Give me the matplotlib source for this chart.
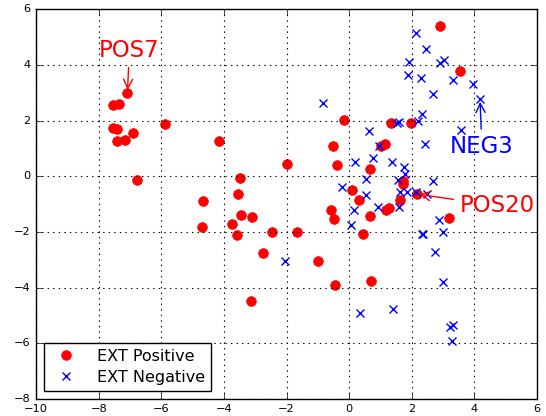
import matplotlib
matplotlib.use("Agg")
import numpy as np
from matplotlib import pyplot as plt

# EXT positive (red circles)
pos_x = [-7.08, -7.54, -7.36, -7.55, -7.41, -7.42, -7.15, -6.90, -5.89, -6.79,
         -4.15, -3.47, -3.56, -4.68, -2.00, -3.46, -3.09, -3.74, -4.70, -3.58,
         -2.47, -1.66, -2.74, -3.14, -0.98, -0.44, 0.71, -0.57, -0.49, 0.43,
         0.68, 1.17, 1.28, 1.63, 3.19, 2.89, 3.53, -0.17, 1.33, 1.98,
         -0.52, -0.38, 0.67, 1.03, 1.15, 1.72, 1.73, 2.16, 0.08, 0.30]
pos_y = [3.00, 2.55, 2.59, 1.73, 1.69, 1.28, 1.30, 1.56, 1.87, -0.13,
         1.27, -0.08, -0.63, -0.88, 0.43, -1.38, -1.45, -1.70, -1.84, -2.12,
         -1.99, -1.99, -2.77, -4.50, -3.06, -3.89, -3.75, -1.20, -1.53, -2.08,
         -1.42, -1.20, -1.15, -0.85, -1.51, 5.39, 3.78, 2.03, 1.90, 1.91,
         1.08, 0.40, 0.25, 1.09, 1.16, -0.19, -0.29, -0.64, -0.50, -0.84]

# EXT negative (blue crosses)
neg_x = [-2.06, 0.14, 0.06, 0.92, 1.59, 2.88, 2.32, 2.36, 2.99, 2.74,
         3.01, 0.35, 1.40, 3.22, 3.31, 3.28, -0.85, 2.14, 2.46, 1.92,
         2.91, 3.04, 1.89, 2.29, 3.32, 3.97, 4.18, 2.68, 2.33, 2.20,
         1.54, 1.60, 3.56, 0.63, 2.42, 0.95, 0.77, 0.20, 1.36, 1.76,
         1.79, 0.53, 1.55, 2.67, -0.22, 0.55, 1.62, 1.84, 2.12, 2.50]
neg_y = [-3.05, -1.21, -1.76, -1.11, -1.11, -1.58, -2.06, -2.06, -2.01, -2.74,
         -3.81, -4.90, -4.76, -5.41, -5.35, -5.91, 2.62, 5.13, 4.57, 4.09,
         4.07, 4.16, 3.65, 3.53, 3.46, 3.30, 2.77, 2.95, 2.23, 1.98,
         1.91, 1.93, 1.67, 1.61, 1.16, 1.08, 0.64, 0.50, 0.50, 0.34,
         0.07, -0.11, -0.12, -0.17, -0.39, -0.66, -0.56, -0.57, -0.55, -0.64]

# labelled points: (label, index, text position)
pos_labels = [("POS7", 0, (-7.02, 4.53)), ("POS20", 47, (4.72, -1.06))]
neg_labels = [("NEG3", 26, (4.24, 1.06))]

plt.style.use("classic")
fig = plt.figure(figsize=(5.46, 4.16), dpi=100, facecolor="white")
ax = fig.add_axes([0.066, 0.041, 0.9175, 0.937])

ax.plot(pos_x, pos_y, "o", color="red", mec="red", ms=7, label="EXT Positive")
ax.plot(neg_x, neg_y, "x", color="blue", mec="blue", ms=6, mew=1,
        label="EXT Negative")

for lab, i, txt in pos_labels:
    ax.annotate(lab, xy=(pos_x[i], pos_y[i]), xytext=txt, color="red",
                fontsize=16.5, ha="center", va="center",
                arrowprops=dict(arrowstyle="->", color="red", lw=1))
for lab, i, txt in neg_labels:
    ax.annotate(lab, xy=(neg_x[i], neg_y[i]), xytext=txt, color="blue",
                fontsize=16.5, ha="center", va="center",
                arrowprops=dict(arrowstyle="->", color="blue", lw=1))

ax.set_xlim(-10, 6)
ax.set_ylim(-8, 6)
ax.set_xticks(np.arange(-10, 7, 2))
ax.set_yticks(np.arange(-8, 7, 2))
ax.tick_params(labelsize=8.2)
ax.grid(True, color="k", linestyle=":", linewidth=0.8)

ax.legend(loc="lower left", numpoints=1, fontsize=11.5, borderaxespad=0.5,
          labelspacing=0.35, handletextpad=0.9)

fig.savefig("out.png", dpi=100, facecolor="white")
